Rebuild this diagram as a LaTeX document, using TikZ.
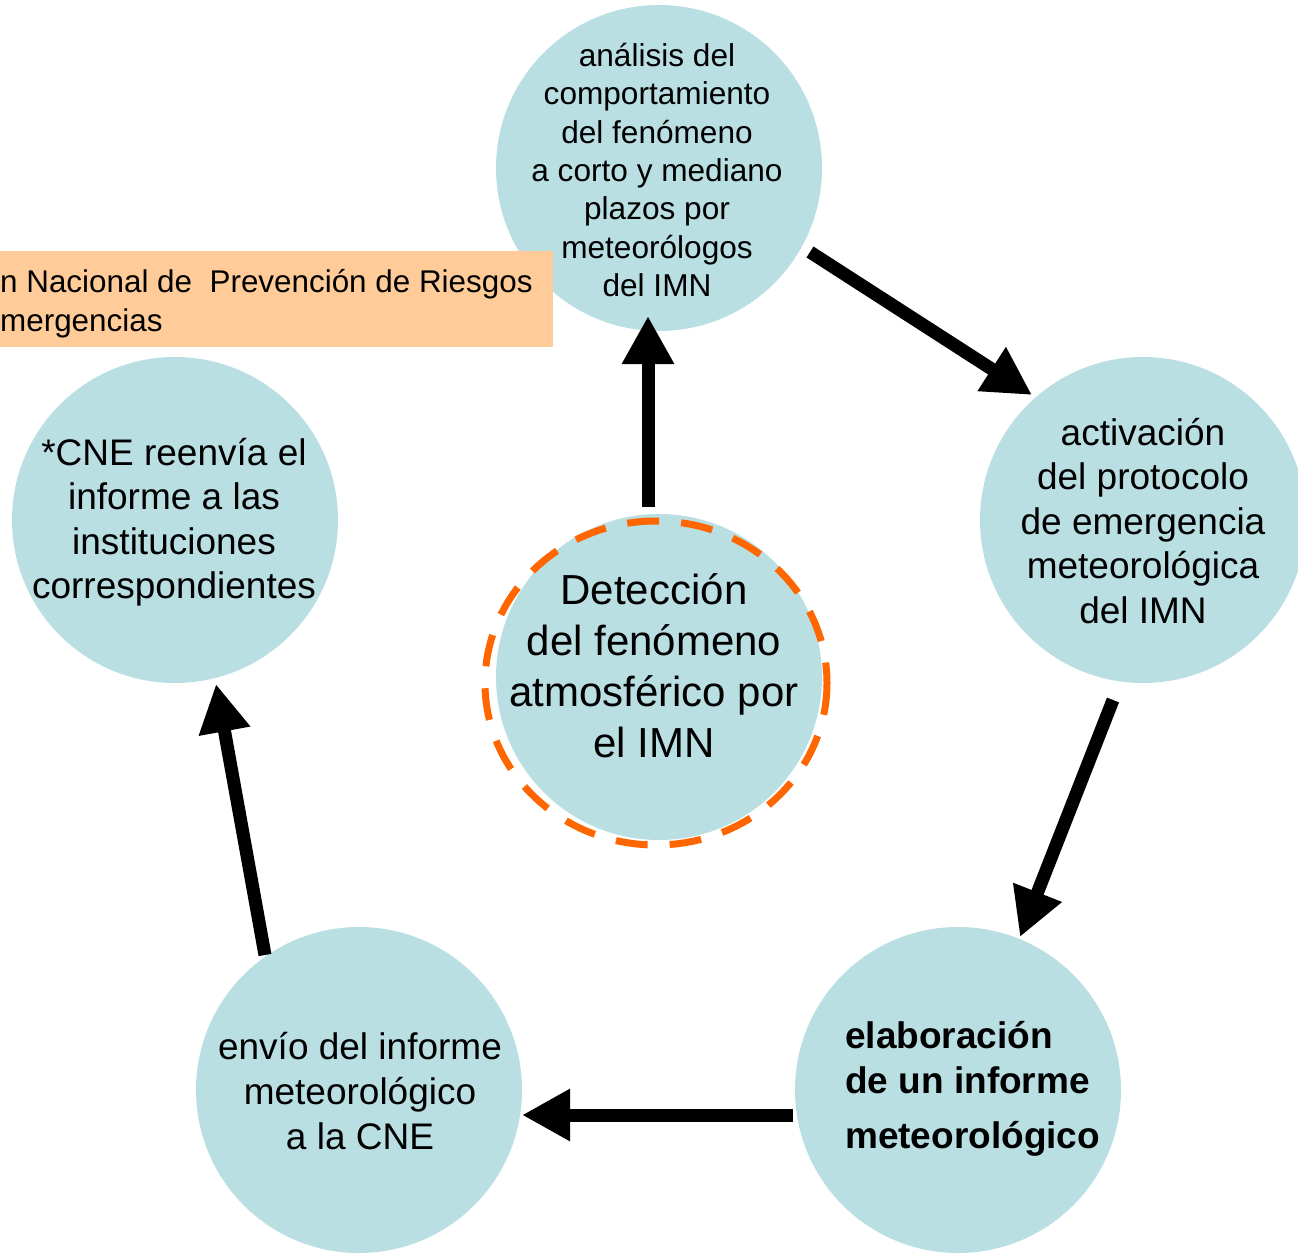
\documentclass[tikz,border=0pt]{standalone}
\usepackage{fontspec}
\setmainfont{Liberation Sans}
\usetikzlibrary{arrows.meta}
\definecolor{circfill}{RGB}{185,223,227}
\definecolor{boxfill}{RGB}{255,204,153}
\definecolor{dashcol}{RGB}{255,102,0}
\begin{document}
\begin{tikzpicture}[x=1pt,y=-1pt,
  bubble/.style={circle,fill=circfill,minimum size=326pt,inner sep=0pt},
  lbl/.style={align=center,inner sep=0pt,text=black},
  flow/.style={line width=13pt,-{Triangle[width=49pt,length=48pt]}}]
\useasboundingbox (0,0) rectangle (1298,1257);
% circles
\node (top) [bubble] at (659,168) {};
\node (right) [bubble] at (1143,520) {};
\node (bright) [bubble] at (958,1090) {};
\node (bleft) [bubble] at (359,1090) {};
\node (left) [bubble] at (175,520) {};
\node (det) [bubble] at (659,677) {};
\draw[dashcol,line width=7pt,dash pattern=on 32pt off 22pt] (656,683) ellipse [x radius=171, y radius=162];
% banner
\node (banner) [fill=boxfill,anchor=north west,minimum width=553pt,minimum height=96pt,inner sep=0pt] at (0,251) {};
\node (bannertxt) [inner sep=0pt,anchor=west,align=left,font=\fontsize{31.4}{39}\selectfont] at (0,304)
  {n Nacional de\ \ Prevención de Riesgos\\mergencias};
% labels
\node (toptxt) [lbl,font=\fontsize{31.6}{38.3}\selectfont] at (657,170)
  {análisis del\\comportamiento\\del fenómeno\\a corto y mediano\\plazos por\\meteorólogos\\del IMN};
\node (righttxt) [lbl,font=\fontsize{37}{44.5}\selectfont] at (1143,521)
  {activación\\del protocolo\\de emergencia\\meteorológica\\del IMN};
\node (lefttxt) [lbl,font=\fontsize{37}{44.5}\selectfont] at (174,522)
  {*CNE reenvía el\\informe a las\\instituciones\\correspondientes};
\node (blefttxt) [lbl,font=\fontsize{37}{45}\selectfont] at (360,1091)
  {envío del informe\\meteorológico\\a la CNE};
\node (brighttxt) [inner sep=0pt,align=left,anchor=west,font=\bfseries\fontsize{37}{45}\selectfont] at (845,1089)
  {elaboración\\de un informe\\[10pt]meteorológico};
\node (dettxt) [lbl,font=\fontsize{42}{51}\selectfont] at (654,666)
  {Detección\\del fenómeno\\atmosférico por\\el IMN};
% arrow ends
\coordinate (a1s) at (648,507); \coordinate (a1e) at (648,316);
\coordinate (a2s) at (810,252); \coordinate (a2e) at (1032,395);
\coordinate (a3s) at (1113,700); \coordinate (a3e) at (1020,937);
\coordinate (a4s) at (793,1115); \coordinate (a4e) at (522,1115);
\coordinate (a5s) at (265,955); \coordinate (a5e) at (216,684);
\draw[flow] (a1s) -- (a1e);
\draw[flow] (a2s) -- (a2e);
\draw[flow] (a3s) -- (a3e);
\draw[flow] (a4s) -- (a4e);
\draw[flow] (a5s) -- (a5e);
\end{tikzpicture}
\end{document}
